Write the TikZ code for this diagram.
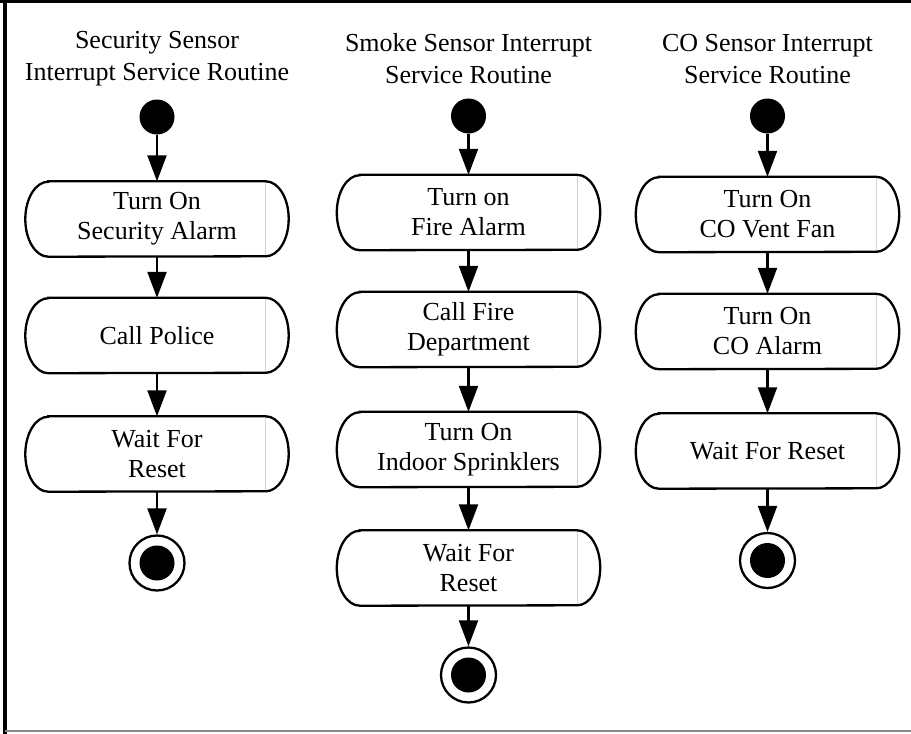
\documentclass[tikz,border=0pt]{standalone}
\usepackage{fontspec}
\setmainfont{Liberation Serif}
\usetikzlibrary{arrows.meta}
\definecolor{seam}{HTML}{D4D4D4}
\definecolor{framegray}{HTML}{8A8A8A}
\tikzset{
  actbox/.style={rectangle, minimum width=263pt, minimum height=75pt, inner sep=0pt,
    align=center, font=\fontsize{26}{30}\selectfont},
  ttl/.style={align=center, font=\fontsize{26}{32}\selectfont, inner sep=0pt},
  startdot/.style={circle, fill=black, minimum size=35pt, inner sep=0pt},
  enddot/.style={circle, draw=black, line width=2.3pt, minimum size=55pt, inner sep=0pt},
  arr/.style={line width=2.2pt, -{Triangle[width=19pt,length=26pt]}},
  outline/.style={line width=2.3pt},
}
\begin{document}
\begin{tikzpicture}[x=1pt,y=-1pt]
\useasboundingbox (0,0) rectangle (911,734);
% frame
\draw[line width=3pt] (0,1.5) -- (911,1.5);
\draw[line width=4pt] (5.3,0) -- (5.3,734);
\draw[framegray, line width=2.5pt] (5,731) -- (911,731);

% column 1
\node[ttl] (t1) at (157,59) {Security Sensor\\Interrupt Service Routine};
\node[startdot] (s1) at (157,117) {};
\node[actbox] (a1) at (157,219) {Turn On\\Security Alarm};
\node[actbox] (a2) at (157,335.5) {Call Police};
\node[actbox] (a3) at (157,454) {Wait For\\Reset};
\node[enddot] (e1) at (157,563) {};

% column 2
\node[ttl] (t2) at (468.5,59) {Smoke Sensor Interrupt\\Service Routine};
\node[startdot] (s2) at (468.5,116) {};
\node[actbox] (b1) at (468.5,212.5) {Turn on\\Fire Alarm};
\node[actbox] (b2) at (468.5,329.5) {Call Fire\\Department};
\node[actbox] (b3) at (468.5,449.5) {Turn On\\Indoor Sprinklers};
\node[actbox] (b4) at (468.5,568) {Wait For\\Reset};
\node[enddot] (e2) at (468.5,675) {};

% column 3
\node[ttl] (t3) at (767.5,59) {CO Sensor Interrupt\\Service Routine};
\node[startdot] (s3) at (767.5,116) {};
\node[actbox] (c1) at (767.5,214.5) {Turn On\\CO Vent Fan};
\node[actbox] (c2) at (767.5,331.5) {Turn On\\CO Alarm};
\node[actbox] (c3) at (767.5,451) {Wait For Reset};
\node[enddot] (e3) at (767.5,560.5) {};

% box outlines
\foreach \n in {a1,a2,a3,b1,b2,b3,b4,c1,c2,c3}{
  \draw[seam, line width=0.8pt] ([xshift=-23pt]\n.north east) -- ([xshift=-23pt]\n.south east);
  \draw[outline] ([xshift=23pt]\n.north west) -- ([xshift=-23pt]\n.north east)
     arc[start angle=90, end angle=-90, x radius=23pt, y radius=37.5pt]
     -- ([xshift=23pt]\n.south west)
     arc[start angle=270, end angle=90, x radius=23pt, y radius=37.5pt] -- cycle;
}
% inner dots of end nodes
\foreach \n in {e1,e2,e3}{
  \fill (\n.center) circle[radius=17.5pt];
}

% connectors
\draw[arr] (s1) -- (a1);
\draw[arr] (a1) -- (a2);
\draw[arr] (a2) -- (a3);
\draw[arr] (a3) -- (e1);

\draw[arr] (s2) -- (b1);
\draw[arr] (b1) -- (b2);
\draw[arr] (b2) -- (b3);
\draw[arr] (b3) -- (b4);
\draw[arr] (b4) -- (e2);

\draw[arr] (s3) -- (c1);
\draw[arr] (c1) -- (c2);
\draw[arr] (c2) -- (c3);
\draw[arr] (c3) -- (e3);
\end{tikzpicture}
\end{document}
